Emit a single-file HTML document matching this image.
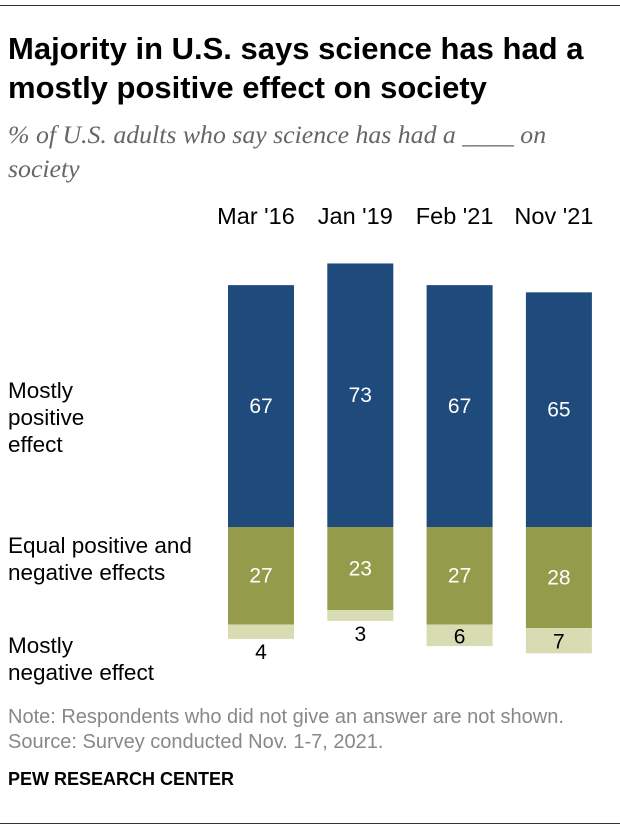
<!DOCTYPE html>
<html><head><meta charset="utf-8"><style>
body{margin:0;background:#fff;font-family:"Liberation Sans",sans-serif;}
#wrap{position:relative;width:620px;height:828px;overflow:hidden;}
.t{position:absolute;white-space:nowrap;}
</style></head><body>
<div id="wrap">
<div style="position:absolute;left:0;top:5px;width:620px;height:1px;background:#333"></div>
<div class="t" style="left:8px;top:29px;font-size:31px;font-weight:bold;line-height:39px;color:#000">Majority in U.S. says science has had a<br>mostly positive effect on society</div>
<div class="t" style="left:8px;top:118px;font-family:'Liberation Serif',serif;font-style:italic;font-size:25.8px;line-height:34px;color:#666">% of U.S. adults who say science has had a ____ on<br>society</div>
<div class="t" style="left:8px;top:377px;font-size:22.5px;line-height:27px;color:#000">Mostly<br>positive<br>effect</div>
<div class="t" style="left:8px;top:532px;font-size:22.5px;line-height:27px;color:#000">Equal positive and<br>negative effects</div>
<div class="t" style="left:8px;top:632px;font-size:22.5px;line-height:27px;color:#000">Mostly<br>negative effect</div>
<svg id="chart" width="620" height="828" style="position:absolute;left:0;top:0"></svg>
<div class="t" style="left:8px;top:705px;font-size:20px;line-height:25px;color:#888">Note: Respondents who did not give an answer are not shown.<br>Source: Survey conducted Nov. 1-7, 2021.</div>
<div class="t" style="left:8px;top:769px;font-size:18px;font-weight:bold;color:#000">PEW RESEARCH CENTER</div>
<div style="position:absolute;left:0;top:823px;width:620px;height:1px;background:#333"></div>
</div>
<script>
const categories=["Mar '16","Jan '19","Feb '21","Nov '21"];
const positive=[67,73,67,65];
const equal=[27,23,27,28];
const negative=[4,3,6,7];
const svg=document.getElementById('chart');
const NS='http://www.w3.org/2000/svg';
const base=527, k=3.61, barW=66;
function xPos(i){return 228+i*99.3;}
function y(v){return v*k;}
function rect(x,y0,h,fill,name){const r=document.createElementNS(NS,'rect');r.setAttribute('x',x);r.setAttribute('y',y0);r.setAttribute('width',barW);r.setAttribute('height',h);r.setAttribute('fill',fill);


svg.appendChild(r);}
function text(x,yy,s,fill,name,fs){const t=document.createElementNS(NS,'text');t.setAttribute('x',x);t.setAttribute('y',yy);t.setAttribute('text-anchor','middle');t.setAttribute('font-size',fs||'21');t.setAttribute('font-family','Liberation Sans, sans-serif');t.setAttribute('fill',fill);t.textContent=s;


svg.appendChild(t);}
categories.forEach((c,i)=>{
 const x=xPos(i),cx=x+barW/2;
 text(cx-5,224,c,'#000','category-label','23.5');
 const hp=y(positive[i]);rect(x,base-hp,hp,'#1f4a7c','bar-positive');
 text(cx,base-hp/2+7,positive[i],'#fff','value-positive');
 const he=y(equal[i]);rect(x,base,he,'#949c4b','bar-equal');
 text(cx,base+he/2+7,equal[i],'#fff','value-equal');
 const hn=y(negative[i]);rect(x,base+he,hn,'#d7dcb2','bar-negative');
 const ny=negative[i]>=5?base+he+hn/2+8:base+he+hn+20;
 text(cx,ny,negative[i],'#000','value-negative');
});
</script>
</body></html>
